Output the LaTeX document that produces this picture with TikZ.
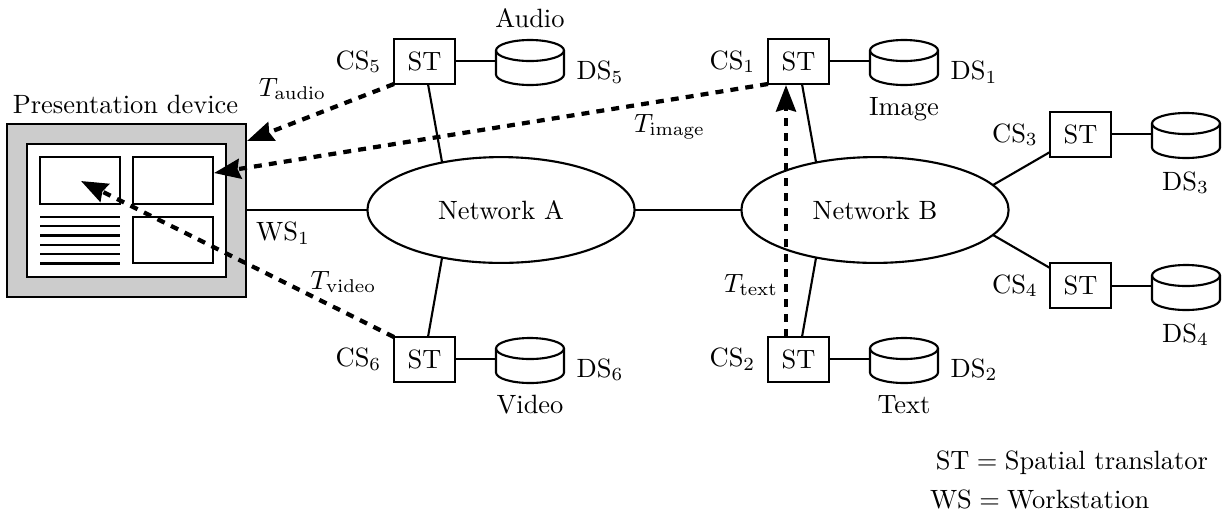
\documentclass[tikz,border=0pt]{standalone}
\usetikzlibrary{arrows.meta,shapes.geometric}
\tikzset{
  x=0.378pt,y=-0.378pt,
  line/.style={line width=0.8pt},
  stbox/.style={draw,line width=0.8pt,minimum width=23.06pt,minimum height=17pt,inner sep=0pt,outer sep=0pt},
  net/.style={draw,ellipse,line width=0.8pt,minimum width=101pt,minimum height=40pt,inner sep=0pt,outer sep=0pt},
  dbbox/.style={minimum width=25.7pt,minimum height=17pt,inner sep=0pt,outer sep=0pt},
  lab/.style={inner sep=0pt,outer sep=0pt,anchor=base},
  frame/.style={draw,line width=0.8pt,inner sep=0pt,outer sep=0pt,minimum width=30.24pt,minimum height=17.6pt},
  thickframe/.style={draw,line width=0.9pt,inner sep=0pt,outer sep=0pt},
  flow/.style={line width=1.6pt,dash pattern=on 3pt off 2.7pt,-{Stealth[length=10pt,width=7.5pt,inset=1pt]}},
}
\newcommand{\dbcyl}[3]{%
  \node[dbbox] (#1) at (#2,#3) {};
  \draw[line width=0.8pt,fill=white] (#1.west) ++(0pt,3.97pt) arc[start angle=180,end angle=0,x radius=12.85pt,y radius=3.97pt]
    -- ++(0pt,-9.07pt) arc[start angle=0,end angle=-180,x radius=12.85pt,y radius=3.97pt] -- cycle;
  \draw[line width=0.8pt] (#1.west) ++(0pt,3.97pt) arc[start angle=180,end angle=360,x radius=12.85pt,y radius=3.97pt];
}
\begin{document}
\begin{tikzpicture}
\useasboundingbox (0,0) rectangle (1225,512);
% presentation device
\node[thickframe,fill=black!20,minimum width=90.3pt,minimum height=65.4pt] (pd) at (126.5,210.5) {};
\node[thickframe,fill=white,minimum width=75.2pt,minimum height=50.3pt] (screen) at (126.5,210.5) {};
\node[frame] (f1) at (80,180.5) {};
\node[frame] (f2) at (173,180.5) {};
\node[frame] (f3) at (173,240) {};
\foreach \i/\y in {1/217,2/226,3/235.5,4/245,5/254,6/263.5}{
  \coordinate (tl\i) at (40,\y); \coordinate (tr\i) at (120,\y);
  \draw[line] (tl\i) -- (tr\i);
}
\node[lab] (pdl) at (125.5,113) {Presentation device};
% networks
\node[net] (na) at (501,210) {Network A};
\node[net] (nb) at (875,210) {Network B};
% boxes
\node[stbox] (st5) at (424.5,61.5) {ST};
\node[stbox] (st6) at (424.5,359.5) {ST};
\node[stbox] (st1) at (798.5,61.5) {ST};
\node[stbox] (st2) at (798.5,359.5) {ST};
\node[stbox] (st3) at (1080.5,134.5) {ST};
\node[stbox] (st4) at (1080.5,285.5) {ST};
% links
\coordinate (s5) at (428,84); \coordinate (a5) at (442,162);
\coordinate (s6) at (428,337); \coordinate (a6) at (442,258);
\coordinate (s1) at (802,84); \coordinate (b1) at (816,162);
\coordinate (s2) at (802,337); \coordinate (b2) at (816,258);
\coordinate (b3) at (993,185); \coordinate (b4) at (993,235);
\coordinate (s3) at (1050,152); \coordinate (s4) at (1050,268);
\draw[line] (pd.east |- na.west) -- (na.west);
\draw[line] (na.east) -- (nb.west);
\draw[line] (s5) -- (a5);
\draw[line] (s6) -- (a6);
\draw[line] (s1) -- (b1);
\draw[line] (s2) -- (b2);
\draw[line] (s3) -- (b3);
\draw[line] (s4) -- (b4);
% cylinders
\dbcyl{d5}{530}{61}
\dbcyl{d6}{530}{359}
\dbcyl{d1}{904}{61}
\dbcyl{d2}{904}{359}
\dbcyl{d3}{1186}{134}
\dbcyl{d4}{1186}{286}
\draw[line] (st5.east |- d5.west) -- (d5.west);
\draw[line] (st6.east |- d6.west) -- (d6.west);
\draw[line] (st1.east |- d1.west) -- (d1.west);
\draw[line] (st2.east |- d2.west) -- (d2.west);
\draw[line] (st3.east |- d3.west) -- (d3.west);
\draw[line] (st4.east |- d4.west) -- (d4.west);
% flows
\coordinate (ta) at (247,141);
\coordinate (ti) at (214,173);
\coordinate (tv) at (81,181);
\draw[flow] (st5.south west) -- (ta);
\draw[flow] (st1.south west) -- (ti);
\draw[flow] (st6.north west) -- (tv);
\coordinate (tb) at (786,337); \coordinate (te) at (786,85);
\draw[flow] (tb) -- (te);
% labels
\node[lab] at (358.5,69) {CS$_5$};
\node[lab] at (732.5,69) {CS$_1$};
\node[lab] at (358.5,366.7) {CS$_6$};
\node[lab] at (732.5,366.7) {CS$_2$};
\node[lab] at (1015,142) {CS$_3$};
\node[lab] at (1015,293) {CS$_4$};
\node[lab] at (530,27) {Audio};
\node[lab] at (904,115) {Image};
\node[lab] at (530,413) {Video};
\node[lab] at (904,413) {Text};
\node[lab] at (600,79.5) {DS$_5$};
\node[lab] at (974,79.5) {DS$_1$};
\node[lab] at (600,377) {DS$_6$};
\node[lab] at (974,377) {DS$_2$};
\node[lab] at (1185.5,190) {DS$_3$};
\node[lab] at (1185.5,342) {DS$_4$};
\node[lab] at (283,240.7) {WS$_1$};
\node[lab] at (292.5,96) {$T_{\mathrm{audio}}$};
\node[lab] at (669.5,132) {$T_{\mathrm{image}}$};
\node[lab] at (343.5,289) {$T_{\mathrm{video}}$};
\node[lab] at (751,292) {$T_{\mathrm{text}}$};
\node[lab,anchor=base east] at (1208,469) {ST${}={}$Spatial translator};
\node[lab,anchor=base west] at (930,508) {WS${}={}$Workstation};
\end{tikzpicture}
\end{document}
